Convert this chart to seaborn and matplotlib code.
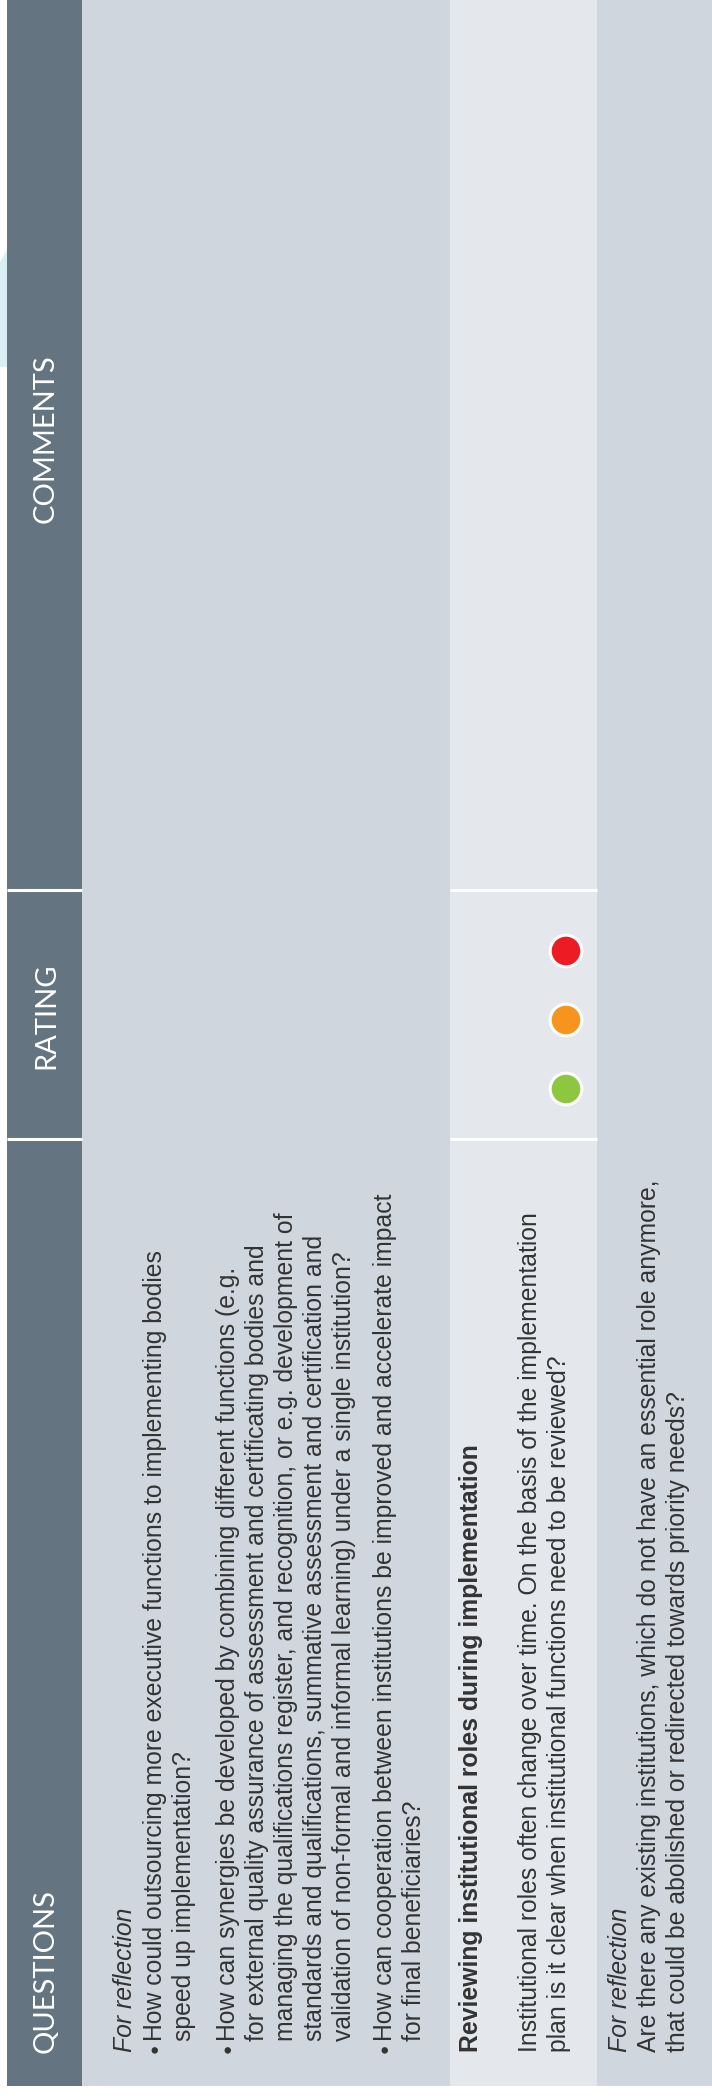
import matplotlib
matplotlib.use("Agg")
import matplotlib.pyplot as plt
import pandas as pd
import seaborn as sns

# header labels (rotated, reading bottom to top)
header_labels = ["COMMENTS", "RATING", "QUESTIONS"]

# body text: (style, text) per line
band1_lines = [
    ("italic", "For reflection"),
    ("bullet", "How could outsourcing more executive functions to implementing bodies"),
    ("cont", "speed up implementation?"),
    ("bullet", "How can synergies be developed by combining different functions (e.g."),
    ("cont", "for external quality assurance of assessment and certificating bodies and"),
    ("cont", "managing the qualifications register, and recognition, or e.g. development of"),
    ("cont", "standards and qualifications, summative assessment and certification and"),
    ("cont", "validation of non-formal and informal learning) under a single institution?"),
    ("bullet", "How can cooperation between institutions be improved and accelerate impact"),
    ("cont", "for final beneficiaries?"),
]
band2_lines = [
    ("bold", "Reviewing institutional roles during implementation"),
    ("plain", "Institutional roles often change over time. On the basis of the implementation"),
    ("plain", "plan is it clear when institutional functions need to be reviewed?"),
]
band3_lines = [
    ("italic", "For reflection"),
    ("plain", "Are there any existing institutions, which do not have an essential role anymore,"),
    ("plain", "that could be abolished or redirected towards priority needs?"),
]

# rating traffic light, from top to bottom
rating_levels = ["red", "amber", "green"]
rating_colors = ["#ed1c24", "#f7941d", "#8dc63f"]

# layout: text baselines (pixels from the left edge)
band1_baselines = [132, 162, 191, 235, 264, 293, 322, 351, 392, 421]
band2_baselines = [478, 537, 566]
band3_baselines = [627, 656, 685]

HEADER_BG = "#647480"
BAND_DARK = "#cfd6de"
BAND_LIGHT = "#e4e8ed"
TEXT_COL = "#333333"

sns.set_theme(style="white")
plt.rcParams["font.family"] = ["Liberation Sans", "DejaVu Sans"]

W, H = 712, 2096
fig = plt.figure(figsize=(W / 100, H / 100), dpi=100)
ax = fig.add_axes([0, 0, 1, 1])

bottom = 2086
# background columns
ax.add_patch(plt.Rectangle((7, 0), 75, bottom, color=HEADER_BG, lw=0))
ax.add_patch(plt.Rectangle((82, 0), 368, bottom, color=BAND_DARK, lw=0))
ax.add_patch(plt.Rectangle((450, 0), 147, bottom, color=BAND_LIGHT, lw=0))
ax.add_patch(plt.Rectangle((597, 0), W - 597, bottom, color=BAND_DARK, lw=0))
ax.add_patch(plt.Polygon([(0, 262), (7, 250), (7, 367), (0, 367)], color="#d9eff3", lw=0))

# white dividers between header sections
for yy in [890, 1139]:
    ax.hlines(yy, 7, 82, color="white", lw=2.2)
    ax.hlines(yy, 450, 597, color="white", lw=2.2)

# header labels
head_font = dict(family=["Lato", "DejaVu Sans"], weight="normal", color="white",
                 fontsize=21, rotation=90, rotation_mode="anchor", zorder=6)
ax.text(46, 439, header_labels[0], ha="center", va="center", **head_font)
ax.text(46, 1016, header_labels[1], ha="center", va="center", **head_font)
ax.text(46, 2053, header_labels[2], ha="left", va="center", **head_font)

FS = 17.8


def draw_block(lines, baselines):
    for (kind, txt), x in zip(lines, baselines):
        style = "italic" if kind == "italic" else "normal"
        weight = "bold" if kind == "bold" else "normal"
        y = 2041 if kind in ("bullet", "cont") else 2052
        ax.text(x, y, txt, rotation=90, rotation_mode="anchor", ha="left",
                va="baseline", fontsize=FS, style=style, weight=weight, color=TEXT_COL)
        if kind == "bullet":
            ax.text(x - 7, 2048, "\u25cf", rotation=90, rotation_mode="anchor",
                    ha="center", va="center", fontsize=11, color=TEXT_COL)


draw_block(band1_lines, band1_baselines)
draw_block(band2_lines, band2_baselines)
draw_block(band3_lines, band3_baselines)

# rating dots
rating_df = pd.DataFrame({"level": rating_levels, "color": rating_colors})
rating_df["x"] = 566
rating_df["y"] = 951 + 69 * rating_df.index
sns.scatterplot(data=rating_df, x="x", y="y", hue="level", palette=rating_colors,
                s=520, edgecolor="white", linewidth=2.2, legend=False, ax=ax, zorder=5)
ax.set_xlim(0, W)
ax.set_ylim(H, 0)
ax.axis("off")

fig.savefig("out.png", dpi=100, facecolor="white")
